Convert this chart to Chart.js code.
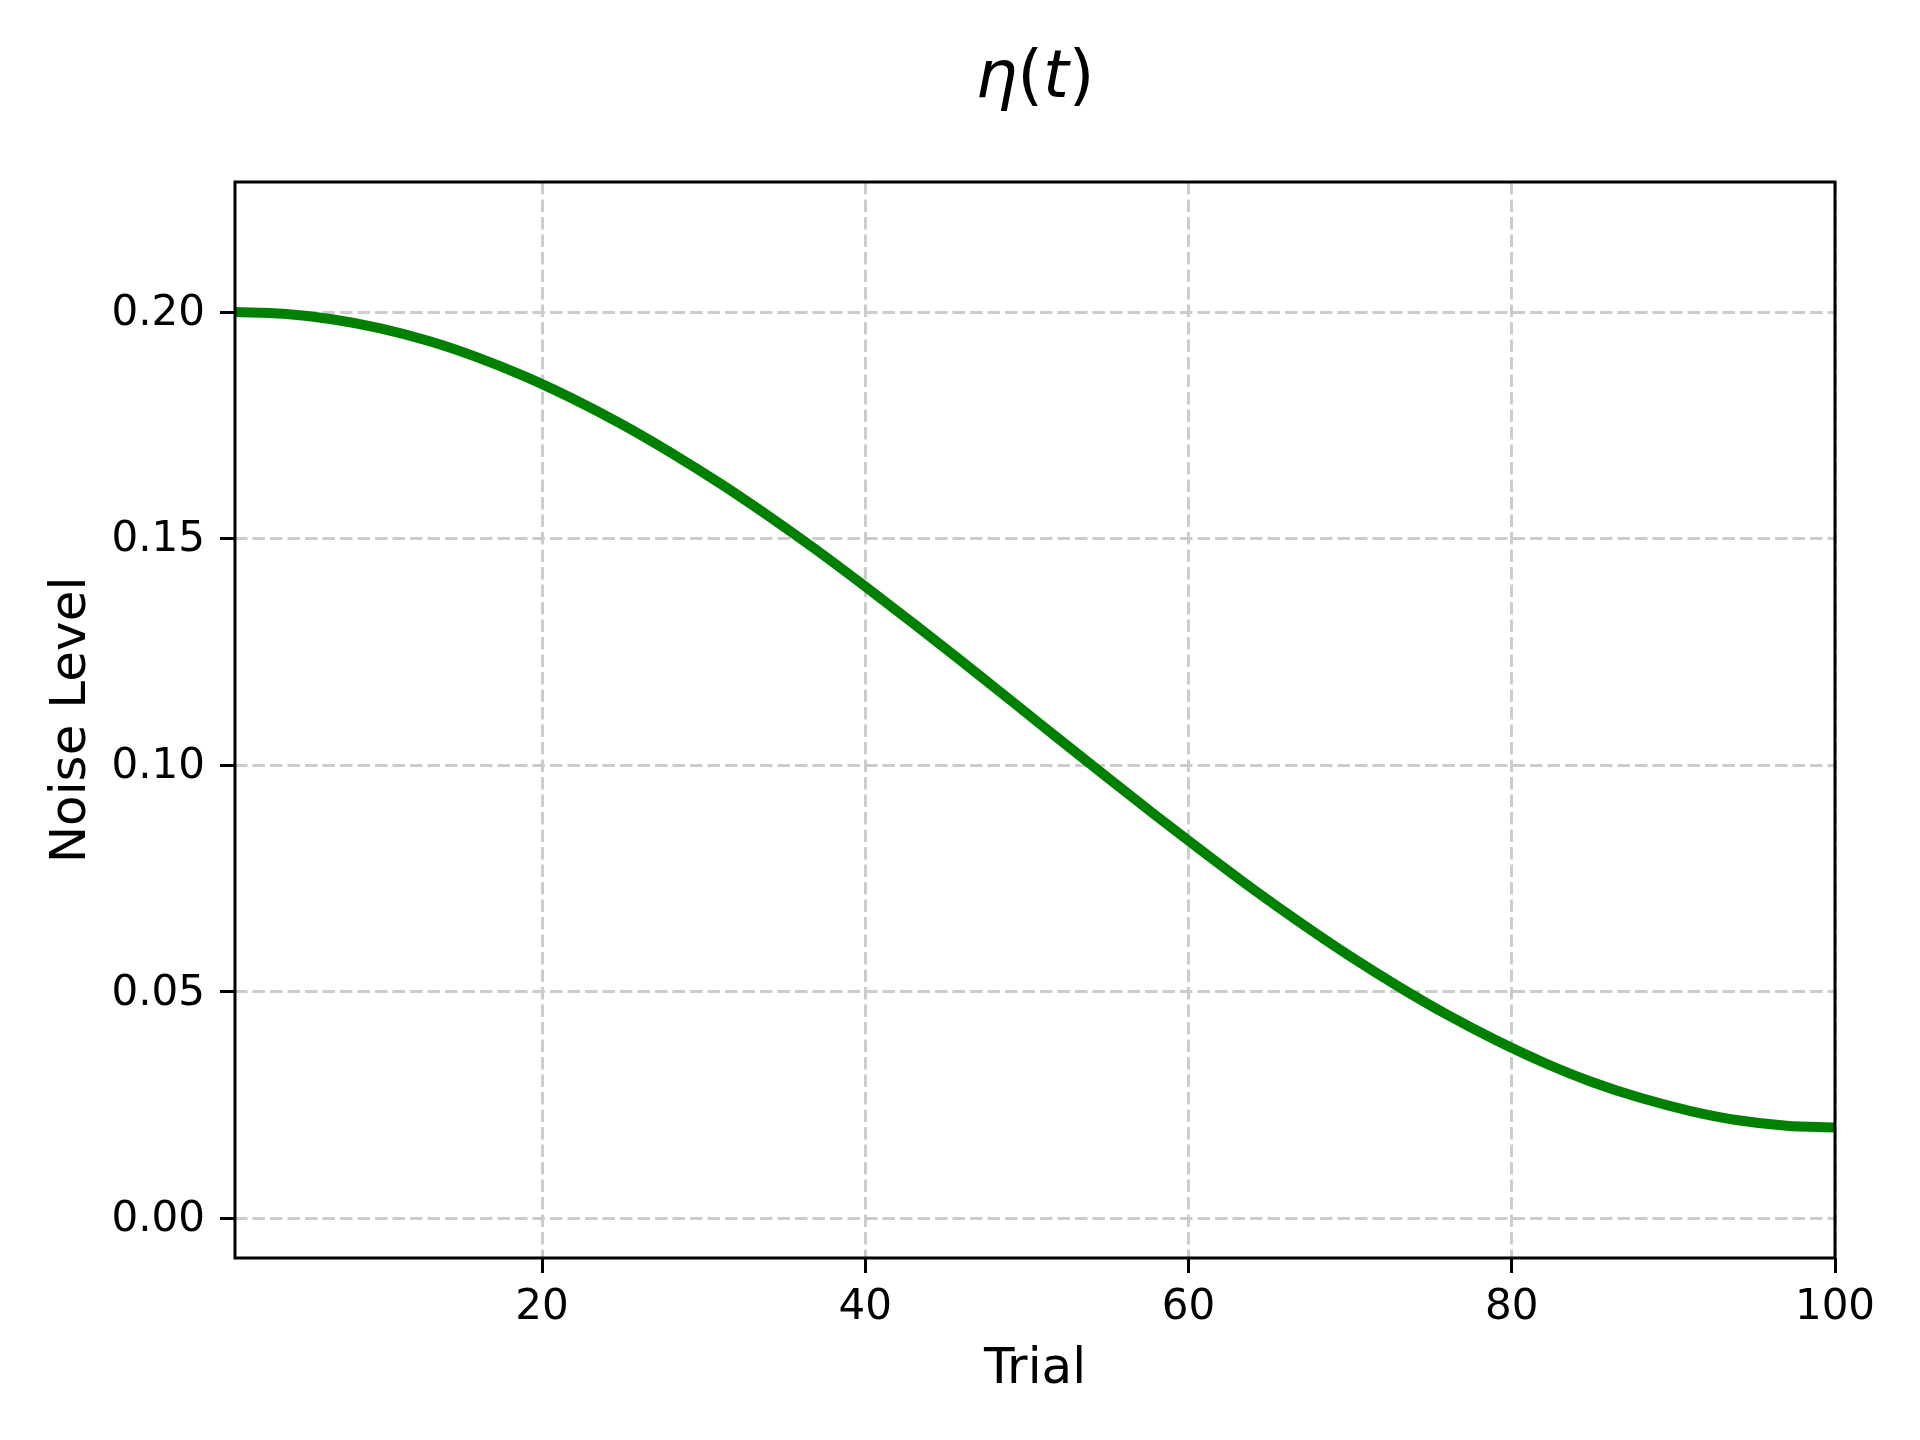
<!DOCTYPE html>
<html>
<head>
<meta charset="utf-8">
<script src="https://cdn.jsdelivr.net/npm/chart.js@4.4.1/dist/chart.umd.min.js"></script>
<style>
  html, body { margin: 0; padding: 0; background: #fff; }
  canvas { display: block; }
</style>
</head>
<body>
<canvas id="chartCanvas" width="1920" height="1440"></canvas>
<script>
// trial numbers (every third trial) and the noise level
const trials = [1, 4, 7, 10, 13, 16, 19, 22, 25, 28, 31, 34, 37, 40, 43, 46, 49,
    52, 55, 58, 61, 64, 67, 70, 73, 76, 79, 82, 85, 88, 91, 94, 97, 100];
const noiseLevel = [0.2000, 0.1996, 0.1984, 0.1964, 0.1936, 0.1900, 0.1857, 0.1807,
    0.1751, 0.1689, 0.1622, 0.1550, 0.1474, 0.1394, 0.1312, 0.1228, 0.1143,
    0.1057, 0.0972, 0.0888, 0.0806, 0.0726, 0.0650, 0.0578, 0.0511, 0.0449,
    0.0393, 0.0343, 0.0300, 0.0265, 0.0237, 0.0216, 0.0204, 0.0200];
const xTicks = [20, 40, 60, 80, 100];
const yTicks = [0.00, 0.05, 0.10, 0.15, 0.20];
// title pieces: math letters italic, brackets upright
const titleParts = [["η", true], ["(", false], ["t", true], [")", false]];

const FONT = "'DejaVu Sans', sans-serif";

// matplotlib-like box around the plot area
const frame = {
    id: "frame",
    afterDatasetsDraw(chart) {
        const { ctx, chartArea: a } = chart;
        ctx.save();
        ctx.strokeStyle = "#000";
        ctx.lineWidth = 3;
        ctx.strokeRect(a.left, a.top, a.right - a.left, a.bottom - a.top);
        ctx.restore();
    }
};

// title centred over the plot area, mixing italic and upright glyphs
const mathTitle = {
    id: "mathTitle",
    afterDraw(chart) {
        const { ctx, chartArea: a } = chart;
        ctx.save();
        ctx.fillStyle = "#000";
        ctx.textBaseline = "alphabetic";
        const fontOf = (it) => (it ? "italic " : "") + "66px " + FONT;
        let total = 0;
        titleParts.forEach(([s, it]) => { ctx.font = fontOf(it); total += ctx.measureText(s).width; });
        let x = (a.left + a.right) / 2 - total / 2;
        titleParts.forEach(([s, it]) => {
            ctx.font = fontOf(it);
            ctx.fillText(s, x, 97);
            x += ctx.measureText(s).width;
        });
        ctx.restore();
    }
};

const grid = {
    color: "#cccccc",
    lineWidth: 3,
    drawTicks: true,
    tickLength: 15,
    tickColor: "#000",
    tickWidth: 3,
    tickBorderDash: []
};
const border = { display: false, dash: [12.5, 5] };

new Chart(document.getElementById("chartCanvas"), {
    type: "line",
    data: {
        labels: trials,
        datasets: [{
            data: trials.map((t, i) => ({ x: t, y: noiseLevel[i] })),
            borderColor: "#008000",
            borderWidth: 10,
            pointRadius: 0,
            fill: false,
            cubicInterpolationMode: "monotone"
        }]
    },
    options: {
        responsive: false,
        animation: false,
        layout: { padding: { left: 0, right: 85, top: 182, bottom: 0 } },
        plugins: {
            legend: { display: false },
            tooltip: { enabled: false },
            title: { display: false }
        },
        scales: {
            x: {
                type: "linear",
                min: 1,
                max: 100,
                grid: grid,
                border: border,
                afterBuildTicks: (s) => { s.ticks = xTicks.map(v => ({ value: v })); },
                afterFit: (s) => { s.height = 182; },
                ticks: {
                    color: "#000",
                    padding: 10,
                    maxRotation: 0,
                    font: { family: FONT, size: 42 },
                    callback: (v) => String(v)
                },
                title: {
                    display: true,
                    text: "Trial",
                    color: "#000",
                    font: { family: FONT, size: 50 },
                    padding: { top: 0, bottom: 40 }
                }
            },
            y: {
                type: "linear",
                min: -0.0088,
                max: 0.2287,
                grid: grid,
                border: border,
                afterBuildTicks: (s) => { s.ticks = yTicks.map(v => ({ value: v })); },
                afterFit: (s) => { s.width = 235; },
                ticks: {
                    color: "#000",
                    padding: 15,
                    labelOffset: 2,
                    font: { family: FONT, size: 42 },
                    callback: (v) => v.toFixed(2)
                },
                title: {
                    display: true,
                    text: "Noise Level",
                    color: "#000",
                    font: { family: FONT, size: 50 },
                    padding: { top: 42, bottom: 0 }
                }
            }
        }
    },
    plugins: [frame, mathTitle]
});
</script>
</body>
</html>
